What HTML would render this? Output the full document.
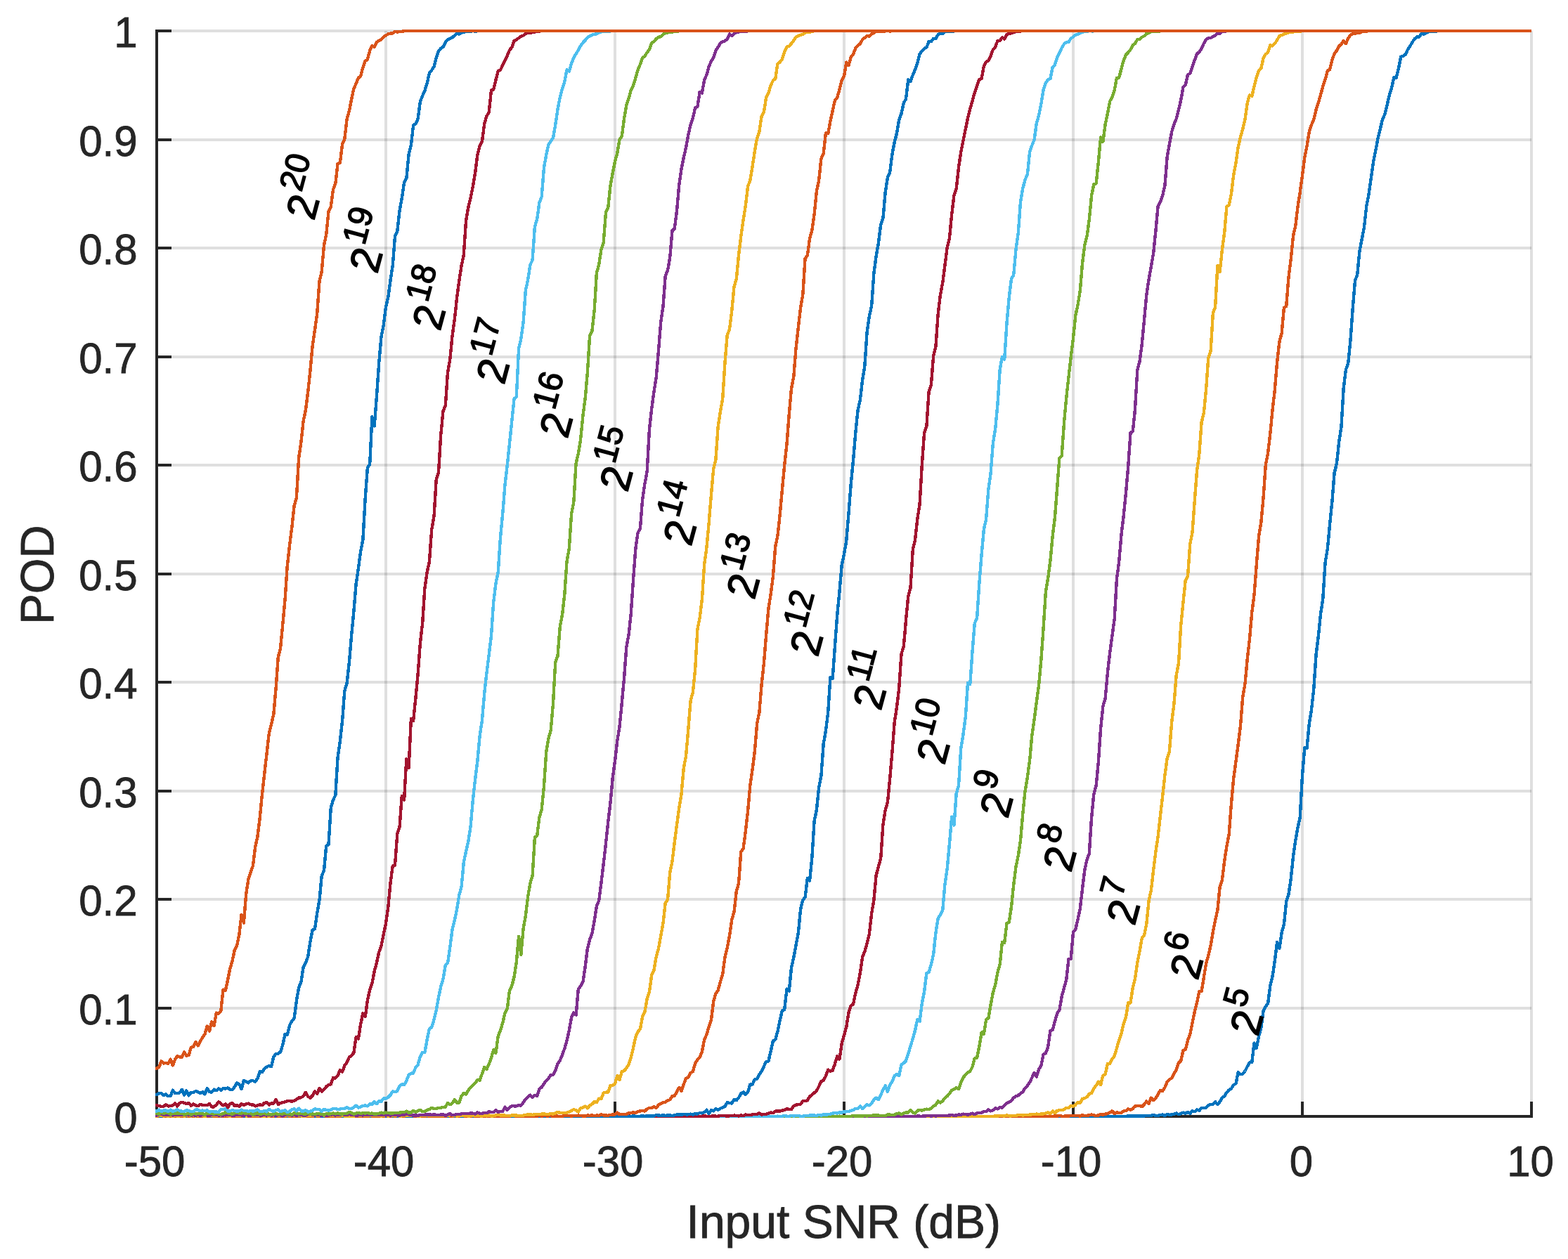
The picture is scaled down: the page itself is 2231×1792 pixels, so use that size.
<!DOCTYPE html>
<html lang="en"><head><meta charset="utf-8"><title>POD vs Input SNR</title>
<style>html,body{margin:0;padding:0;background:#fff}svg{display:block}text{font-family:"Liberation Sans",sans-serif}.t{font-size:60px;fill:#262626;stroke:#262626;stroke-width:.8}.l{font-size:66px;fill:#262626;stroke:#262626;stroke-width:.8}.c{fill:none;stroke-width:4.40;stroke-linejoin:round;stroke-linecap:butt;shape-rendering:crispEdges}.g{stroke:#262626;stroke-opacity:.15;stroke-width:4;fill:none;shape-rendering:crispEdges}.a{stroke:#262626;stroke-width:4;fill:none;shape-rendering:crispEdges}.d{font-size:60px;fill:#000;stroke:#000;stroke-width:1.5}.s{font-size:48px}</style></head><body>
<svg width="2231" height="1792" viewBox="0 0 2231 1792">
<rect width="2231" height="1792" fill="#fff"/>
<path class="g" d="M549,1568 V44 M875,1568 V44 M1201,1568 V44 M1527,1568 V44 M1853,1568 V44 M2179,1568 V44"/>
<path class="g" d="M244,44 H2179 M244,199 H2179 M244,353 H2179 M244,508 H2179 M244,662 H2179 M244,817 H2179 M244,971 H2179 M244,1126 H2179 M244,1280 H2179 M244,1435 H2179"/>
<path class="a" d="M223,42 V1591 M221,1589 H2181 M549,1589 V1568 M875,1589 V1568 M1201,1589 V1568 M1527,1589 V1568 M1853,1589 V1568 M2179,1589 V1568 M223,44 H244 M223,199 H244 M223,353 H244 M223,508 H244 M223,662 H244 M223,817 H244 M223,971 H244 M223,1126 H244 M223,1280 H244 M223,1435 H244"/>
<polyline class="c" stroke="#0072BD" points="221.0,1589.0 223.0,1589.0 258.9,1589.0 262.1,1588.8 265.4,1589.0 356.7,1589.0 359.9,1588.8 363.2,1589.0 451.2,1589.0 454.5,1588.8 457.7,1589.0 614.2,1589.0 617.5,1588.8 620.7,1589.0 1390.1,1589.0 1393.3,1588.8 1396.6,1589.0 1435.7,1589.0 1439.0,1588.8 1442.2,1589.0 1484.6,1589.0 1487.9,1588.8 1491.1,1589.0 1543.3,1589.0 1546.6,1588.8 1549.8,1589.0 1553.1,1589.0 1556.3,1588.8 1559.6,1589.0 1572.6,1589.0 1575.9,1588.8 1579.2,1589.0 1582.4,1588.8 1585.7,1589.0 1588.9,1589.0 1592.2,1588.8 1595.5,1589.0 1598.7,1589.0 1602.0,1588.8 1605.2,1588.5 1608.5,1588.7 1611.8,1588.3 1618.3,1588.3 1621.5,1588.7 1624.8,1588.5 1628.1,1588.5 1631.3,1587.8 1634.6,1588.0 1637.8,1587.8 1641.1,1587.1 1644.4,1588.0 1647.6,1587.8 1650.9,1587.1 1654.1,1586.6 1657.4,1588.1 1660.7,1585.9 1663.9,1586.8 1667.2,1586.6 1670.4,1585.6 1673.7,1584.5 1677.0,1586.3 1680.2,1585.1 1683.5,1583.5 1686.7,1584.7 1690.0,1582.8 1693.3,1584.7 1696.5,1581.3 1699.8,1582.3 1703.0,1579.4 1706.3,1580.9 1709.6,1577.0 1712.8,1577.0 1716.1,1576.8 1719.3,1573.5 1722.6,1571.8 1725.9,1572.0 1729.1,1568.1 1732.4,1572.2 1735.6,1568.4 1738.9,1562.2 1742.2,1560.5 1745.4,1554.8 1748.7,1551.4 1751.9,1549.5 1755.2,1544.2 1758.5,1542.5 1761.7,1526.2 1765.0,1529.1 1768.2,1528.6 1771.5,1524.5 1774.8,1517.9 1778.0,1512.3 1781.3,1511.9 1784.5,1484.6 1787.8,1491.8 1791.1,1474.8 1794.3,1463.0 1797.6,1439.1 1800.8,1432.4 1804.1,1428.5 1807.4,1402.4 1810.6,1389.2 1813.9,1367.2 1817.1,1340.8 1820.4,1349.9 1823.7,1327.2 1826.9,1315.9 1830.2,1282.9 1833.4,1273.6 1836.7,1251.3 1840.0,1219.2 1843.2,1196.9 1846.5,1178.0 1849.7,1163.8 1853.0,1103.7 1856.3,1064.2 1859.5,1064.9 1862.8,1030.1 1866.0,1010.1 1869.3,980.4 1872.6,931.5 1875.8,905.9 1879.1,873.8 1882.3,851.9 1885.6,800.5 1888.9,780.6 1892.1,746.1 1895.4,713.8 1898.6,673.2 1901.9,659.8 1905.2,628.7 1908.4,608.1 1911.7,552.6 1914.9,526.2 1918.2,517.3 1921.5,484.3 1924.7,439.5 1928.0,399.7 1931.2,390.9 1934.5,357.3 1937.8,340.1 1941.0,323.3 1944.3,293.4 1947.5,276.6 1950.8,253.3 1954.1,230.3 1957.3,214.3 1960.6,196.6 1963.8,183.4 1967.1,170.0 1970.4,162.5 1973.6,149.4 1976.9,135.0 1980.1,124.7 1983.4,110.1 1986.7,110.6 1989.9,97.7 1993.2,80.7 1996.4,79.9 1999.7,77.6 2003.0,70.4 2006.2,65.8 2009.5,60.0 2012.7,55.3 2016.0,52.4 2019.3,52.6 2022.5,48.1 2025.8,48.5 2029.0,46.9 2032.3,45.2 2035.6,44.9 2038.8,44.7 2042.1,44.5 2045.3,44.3 2048.6,44.0 2055.1,44.0 2058.4,44.2 2061.6,44.2 2064.9,44.0 2179.0,44.0"/>
<polyline class="c" stroke="#D95319" points="221.0,1589.0 223.0,1589.0 268.6,1589.0 271.9,1588.8 275.2,1589.0 317.5,1589.0 320.8,1588.8 324.1,1589.0 669.6,1589.0 672.9,1588.8 676.1,1589.0 708.7,1589.0 712.0,1588.8 715.3,1589.0 770.7,1589.0 773.9,1588.8 777.2,1589.0 904.3,1589.0 907.6,1588.8 910.9,1589.0 1021.7,1589.0 1025.0,1588.8 1028.2,1589.0 1191.2,1589.0 1194.5,1588.8 1197.7,1589.0 1331.4,1589.0 1334.7,1588.8 1337.9,1589.0 1416.2,1589.0 1419.4,1588.8 1422.7,1588.8 1425.9,1589.0 1429.2,1588.8 1432.5,1589.0 1435.7,1589.0 1439.0,1588.8 1442.2,1589.0 1465.1,1589.0 1468.3,1588.8 1471.6,1588.8 1474.8,1589.0 1484.6,1589.0 1487.9,1588.7 1491.1,1588.8 1494.4,1588.8 1497.7,1589.0 1500.9,1588.5 1504.2,1588.7 1507.4,1587.8 1510.7,1588.8 1514.0,1588.7 1517.2,1588.5 1520.5,1588.5 1523.7,1588.1 1527.0,1588.1 1530.3,1587.8 1533.5,1587.8 1536.8,1588.7 1540.0,1587.1 1543.3,1588.1 1546.6,1587.8 1549.8,1587.3 1553.1,1586.6 1556.3,1587.3 1559.6,1588.0 1562.9,1587.5 1566.1,1585.9 1569.4,1586.8 1572.6,1585.7 1575.9,1585.2 1579.2,1583.7 1582.4,1581.4 1585.7,1584.9 1588.9,1583.5 1592.2,1583.8 1595.5,1583.8 1598.7,1581.4 1602.0,1580.9 1605.2,1578.5 1608.5,1579.7 1611.8,1578.2 1615.0,1574.6 1618.3,1573.9 1621.5,1574.1 1624.8,1575.1 1628.1,1572.0 1631.3,1567.4 1634.6,1570.8 1637.8,1562.6 1641.1,1566.2 1644.4,1563.1 1647.6,1557.9 1650.9,1551.9 1654.1,1553.1 1657.4,1547.8 1660.7,1539.9 1663.9,1536.5 1667.2,1534.4 1670.4,1528.1 1673.7,1522.9 1677.0,1513.0 1680.2,1510.0 1683.5,1495.1 1686.7,1493.9 1690.0,1480.7 1693.3,1472.1 1696.5,1455.8 1699.8,1440.0 1703.0,1427.3 1706.3,1411.0 1709.6,1411.3 1712.8,1391.4 1716.1,1371.3 1719.3,1359.7 1722.6,1345.9 1725.9,1326.3 1729.1,1310.2 1732.4,1295.1 1735.6,1262.7 1738.9,1252.7 1742.2,1225.4 1745.4,1204.6 1748.7,1187.6 1751.9,1144.2 1755.2,1107.8 1758.5,1083.8 1761.7,1059.4 1765.0,1033.0 1768.2,992.3 1771.5,973.1 1774.8,937.5 1778.0,909.4 1781.3,871.3 1784.5,846.7 1787.8,803.6 1791.1,762.9 1794.3,744.1 1797.6,708.0 1800.8,661.8 1804.1,644.8 1807.4,616.3 1810.6,582.9 1813.9,554.4 1817.1,515.6 1820.4,486.6 1823.7,473.9 1826.9,437.8 1830.2,436.1 1833.4,395.6 1836.7,368.8 1840.0,335.8 1843.2,322.1 1846.5,294.3 1849.7,273.9 1853.0,249.7 1856.3,223.9 1859.5,208.1 1862.8,187.3 1866.0,177.6 1869.3,170.3 1872.6,156.1 1875.8,146.3 1879.1,134.6 1882.3,123.1 1885.6,113.2 1888.9,100.3 1892.1,98.9 1895.4,85.7 1898.6,76.3 1901.9,72.0 1905.2,65.6 1908.4,62.9 1911.7,58.1 1914.9,62.2 1918.2,54.5 1921.5,50.2 1924.7,47.6 1928.0,47.9 1931.2,46.7 1934.5,46.6 1937.8,45.4 1941.0,44.5 1944.3,44.5 1947.5,44.0 1950.8,44.0 1954.1,44.2 1957.3,44.0 1967.1,44.0 1970.4,44.2 1973.6,44.0 2179.0,44.0"/>
<polyline class="c" stroke="#EDB120" points="221.0,1589.0 223.0,1589.0 425.1,1589.0 428.4,1588.8 431.6,1589.0 457.7,1589.0 461.0,1588.8 464.2,1589.0 653.3,1589.0 656.6,1588.8 659.8,1588.8 663.1,1589.0 666.4,1589.0 669.6,1588.8 672.9,1589.0 747.9,1589.0 751.1,1588.8 754.4,1589.0 770.7,1589.0 773.9,1588.8 777.2,1589.0 832.6,1589.0 835.9,1588.8 839.1,1589.0 917.4,1589.0 920.6,1588.8 923.9,1589.0 989.1,1589.0 992.4,1588.8 995.6,1589.0 1142.3,1589.0 1145.6,1588.8 1148.8,1589.0 1207.5,1589.0 1210.8,1588.8 1214.0,1589.0 1337.9,1589.0 1341.2,1588.8 1344.4,1589.0 1360.7,1589.0 1364.0,1588.8 1367.3,1589.0 1370.5,1588.8 1373.8,1589.0 1380.3,1589.0 1383.6,1588.8 1386.8,1589.0 1390.1,1588.8 1393.3,1588.7 1396.6,1589.0 1399.9,1588.8 1403.1,1589.0 1406.4,1588.8 1409.6,1588.7 1412.9,1589.0 1416.2,1588.3 1419.4,1588.5 1422.7,1588.1 1425.9,1588.1 1429.2,1588.5 1432.5,1587.3 1435.7,1588.3 1439.0,1588.3 1442.2,1588.1 1445.5,1588.0 1448.8,1587.1 1452.0,1587.1 1455.3,1587.5 1458.5,1586.9 1461.8,1586.9 1465.1,1586.6 1468.3,1586.3 1471.6,1585.9 1474.8,1585.6 1478.1,1585.9 1481.4,1585.6 1484.6,1585.4 1487.9,1584.4 1491.1,1583.3 1494.4,1585.1 1497.7,1581.4 1500.9,1584.2 1504.2,1580.9 1507.4,1580.2 1510.7,1580.1 1514.0,1579.2 1517.2,1576.8 1520.5,1576.8 1523.7,1573.9 1527.0,1574.6 1530.3,1572.7 1533.5,1568.9 1536.8,1570.1 1540.0,1563.9 1543.3,1563.1 1546.6,1561.5 1549.8,1556.9 1553.1,1556.0 1556.3,1549.2 1559.6,1545.1 1562.9,1539.7 1566.1,1544.2 1569.4,1530.6 1572.6,1529.4 1575.9,1514.0 1579.2,1513.8 1582.4,1507.3 1585.7,1503.0 1588.9,1492.2 1592.2,1480.5 1595.5,1471.1 1598.7,1456.8 1602.0,1448.1 1605.2,1427.1 1608.5,1427.5 1611.8,1405.5 1615.0,1393.6 1618.3,1369.8 1621.5,1354.0 1624.8,1335.3 1628.1,1331.2 1631.3,1314.8 1634.6,1281.9 1637.8,1267.6 1641.1,1239.0 1644.4,1212.5 1647.6,1190.7 1650.9,1161.7 1654.1,1133.7 1657.4,1103.5 1660.7,1079.2 1663.9,1069.7 1667.2,1027.5 1670.4,1002.4 1673.7,961.0 1677.0,944.2 1680.2,889.8 1683.5,856.8 1686.7,826.5 1690.0,820.3 1693.3,774.1 1696.5,757.8 1699.8,712.8 1703.0,670.4 1706.3,646.6 1709.6,601.2 1712.8,588.0 1716.1,554.5 1719.3,509.2 1722.6,500.1 1725.9,445.2 1729.1,437.3 1732.4,378.2 1735.6,386.6 1738.9,355.6 1742.2,330.9 1745.4,294.1 1748.7,291.9 1751.9,275.8 1755.2,249.0 1758.5,231.6 1761.7,209.3 1765.0,195.1 1768.2,183.9 1771.5,170.0 1774.8,146.1 1778.0,135.3 1781.3,136.9 1784.5,123.0 1787.8,110.1 1791.1,100.6 1794.3,97.6 1797.6,82.8 1800.8,77.0 1804.1,74.7 1807.4,64.3 1810.6,65.3 1813.9,61.9 1817.1,57.2 1820.4,50.9 1823.7,50.2 1826.9,48.5 1830.2,47.4 1833.4,46.4 1836.7,45.4 1840.0,45.5 1843.2,44.9 1846.5,44.3 1849.7,44.5 1853.0,44.2 1856.3,44.0 1859.5,44.2 1862.8,44.2 1866.0,44.0 2179.0,44.0"/>
<polyline class="c" stroke="#7E2F8E" points="221.0,1589.0 223.0,1589.0 226.3,1588.8 229.5,1589.0 324.1,1589.0 327.3,1588.8 330.6,1589.0 359.9,1589.0 363.2,1588.8 366.4,1588.8 369.7,1589.0 379.5,1589.0 382.7,1588.8 386.0,1589.0 389.3,1589.0 392.5,1588.8 395.8,1588.8 399.0,1589.0 418.6,1589.0 421.9,1588.8 425.1,1589.0 434.9,1589.0 438.2,1588.8 441.4,1589.0 467.5,1589.0 470.8,1588.8 474.0,1589.0 529.4,1589.0 532.7,1588.8 536.0,1589.0 620.7,1589.0 624.0,1588.8 627.2,1589.0 682.7,1589.0 685.9,1588.8 689.2,1589.0 702.2,1589.0 705.5,1588.8 708.7,1589.0 754.4,1589.0 757.6,1588.8 760.9,1589.0 783.7,1589.0 787.0,1588.8 790.2,1589.0 793.5,1589.0 796.8,1588.8 800.0,1589.0 875.0,1589.0 878.3,1588.8 881.5,1588.8 884.8,1589.0 985.8,1589.0 989.1,1588.8 992.4,1589.0 995.6,1588.8 998.9,1589.0 1086.9,1589.0 1090.2,1588.8 1093.4,1588.8 1096.7,1589.0 1113.0,1589.0 1116.2,1588.8 1119.5,1589.0 1165.1,1589.0 1168.4,1588.8 1171.7,1589.0 1253.2,1589.0 1256.4,1588.7 1259.7,1588.8 1262.9,1589.0 1272.7,1589.0 1276.0,1588.8 1279.2,1588.8 1282.5,1588.7 1285.8,1589.0 1289.0,1589.0 1292.3,1588.7 1295.5,1588.8 1298.8,1588.8 1302.1,1589.0 1305.3,1588.5 1308.6,1588.7 1311.8,1588.7 1315.1,1588.3 1318.4,1588.3 1321.6,1588.0 1324.9,1588.7 1328.1,1587.8 1331.4,1588.7 1334.7,1588.0 1337.9,1587.8 1341.2,1588.0 1344.4,1588.1 1347.7,1587.8 1351.0,1587.6 1354.2,1586.9 1357.5,1587.8 1360.7,1587.5 1364.0,1586.6 1367.3,1586.8 1370.5,1585.6 1373.8,1586.1 1377.0,1586.6 1380.3,1585.9 1383.6,1584.7 1386.8,1586.3 1390.1,1584.5 1393.3,1583.8 1396.6,1583.8 1399.9,1582.0 1403.1,1582.0 1406.4,1579.4 1409.6,1581.4 1412.9,1580.2 1416.2,1577.3 1419.4,1578.4 1422.7,1575.8 1425.9,1576.6 1429.2,1573.5 1432.5,1569.9 1435.7,1569.1 1439.0,1566.5 1442.2,1562.6 1445.5,1560.2 1448.8,1559.1 1452.0,1556.4 1455.3,1554.3 1458.5,1548.7 1461.8,1545.4 1465.1,1540.6 1468.3,1533.9 1471.6,1526.9 1474.8,1532.5 1478.1,1521.9 1481.4,1516.6 1484.6,1500.6 1487.9,1499.2 1491.1,1490.1 1494.4,1467.5 1497.7,1465.6 1500.9,1453.9 1504.2,1442.4 1507.4,1437.6 1510.7,1418.5 1514.0,1406.2 1517.2,1394.8 1520.5,1365.0 1523.7,1364.6 1527.0,1327.0 1530.3,1322.7 1533.5,1308.8 1536.8,1293.6 1540.0,1265.4 1543.3,1238.5 1546.6,1223.3 1549.8,1214.9 1553.1,1163.6 1556.3,1130.5 1559.6,1118.5 1562.9,1084.0 1566.1,1036.9 1569.4,1005.3 1572.6,994.3 1575.9,957.6 1579.2,928.6 1582.4,905.1 1585.7,880.9 1588.9,824.4 1592.2,799.5 1595.5,760.4 1598.7,734.4 1602.0,701.5 1605.2,664.1 1608.5,616.2 1611.8,613.8 1615.0,582.7 1618.3,526.7 1621.5,514.7 1624.8,489.8 1628.1,454.5 1631.3,420.1 1634.6,397.5 1637.8,380.1 1641.1,360.6 1644.4,328.6 1647.6,293.8 1650.9,287.4 1654.1,278.5 1657.4,264.2 1660.7,223.2 1663.9,205.5 1667.2,187.5 1670.4,177.2 1673.7,169.0 1677.0,156.6 1680.2,142.5 1683.5,124.2 1686.7,121.1 1690.0,106.3 1693.3,104.6 1696.5,94.8 1699.8,85.5 1703.0,77.0 1706.3,73.9 1709.6,69.2 1712.8,61.9 1716.1,56.5 1719.3,54.1 1722.6,54.0 1725.9,52.1 1729.1,50.4 1732.4,47.3 1735.6,47.6 1738.9,45.2 1742.2,44.5 1745.4,44.3 1748.7,44.2 1751.9,44.0 1755.2,44.3 1758.5,44.0 1761.7,44.0 1765.0,44.3 1768.2,44.0 2179.0,44.0"/>
<polyline class="c" stroke="#77AC30" points="221.0,1589.0 223.0,1589.0 229.5,1589.0 232.8,1588.8 236.0,1589.0 255.6,1589.0 258.9,1588.7 262.1,1589.0 307.8,1589.0 311.0,1588.8 314.3,1589.0 340.4,1589.0 343.6,1588.8 346.9,1589.0 363.2,1589.0 366.4,1588.8 369.7,1589.0 382.7,1589.0 386.0,1588.7 389.3,1589.0 421.9,1589.0 425.1,1588.8 428.4,1588.8 431.6,1589.0 444.7,1589.0 447.9,1588.8 451.2,1588.7 454.5,1588.8 457.7,1589.0 467.5,1589.0 470.8,1588.8 474.0,1589.0 503.4,1589.0 506.6,1588.7 509.9,1589.0 513.1,1588.8 516.4,1589.0 536.0,1589.0 539.2,1588.8 542.5,1589.0 545.7,1588.8 549.0,1589.0 555.5,1589.0 558.8,1588.7 562.0,1589.0 565.3,1589.0 568.6,1588.8 571.8,1588.8 575.1,1589.0 588.1,1589.0 591.4,1588.8 594.6,1589.0 620.7,1589.0 624.0,1588.8 627.2,1589.0 633.8,1589.0 637.0,1588.8 640.3,1589.0 689.2,1589.0 692.4,1588.8 695.7,1589.0 699.0,1588.8 702.2,1589.0 708.7,1589.0 712.0,1588.8 715.3,1589.0 721.8,1589.0 725.0,1588.8 728.3,1589.0 744.6,1589.0 747.9,1588.8 751.1,1589.0 764.2,1589.0 767.4,1588.8 770.7,1588.8 773.9,1589.0 835.9,1589.0 839.1,1588.8 842.4,1589.0 871.7,1589.0 875.0,1588.7 878.3,1589.0 907.6,1589.0 910.9,1588.8 914.1,1589.0 936.9,1589.0 940.2,1588.8 943.5,1588.8 946.7,1589.0 985.8,1589.0 989.1,1588.8 992.4,1589.0 995.6,1588.8 998.9,1588.8 1002.1,1589.0 1047.8,1589.0 1051.0,1588.8 1054.3,1589.0 1060.8,1589.0 1064.1,1588.8 1067.3,1589.0 1070.6,1588.7 1073.9,1589.0 1077.1,1588.8 1080.4,1588.8 1083.6,1589.0 1119.5,1589.0 1122.8,1588.8 1126.0,1589.0 1132.5,1589.0 1135.8,1588.8 1142.3,1588.8 1145.6,1589.0 1148.8,1588.8 1152.1,1588.8 1155.4,1588.7 1158.6,1589.0 1161.9,1588.8 1165.1,1589.0 1178.2,1589.0 1181.4,1588.8 1184.7,1588.8 1188.0,1588.7 1191.2,1589.0 1194.5,1588.7 1197.7,1588.8 1201.0,1588.7 1204.3,1589.0 1207.5,1589.0 1210.8,1588.7 1214.0,1588.1 1217.3,1588.7 1220.6,1588.5 1223.8,1588.3 1227.1,1588.7 1230.3,1588.0 1233.6,1588.5 1236.9,1588.1 1240.1,1588.1 1243.4,1587.3 1246.6,1587.3 1249.9,1587.6 1253.2,1588.3 1256.4,1588.0 1259.7,1588.0 1262.9,1586.6 1266.2,1586.6 1269.5,1586.9 1272.7,1586.9 1276.0,1585.1 1279.2,1584.4 1282.5,1586.3 1285.8,1584.7 1289.0,1583.5 1292.3,1583.7 1295.5,1579.9 1298.8,1583.5 1302.1,1584.5 1305.3,1580.8 1308.6,1580.1 1311.8,1580.6 1315.1,1579.6 1318.4,1578.7 1321.6,1578.9 1324.9,1578.0 1328.1,1574.4 1331.4,1572.7 1334.7,1567.2 1337.9,1569.6 1341.2,1567.2 1344.4,1562.7 1347.7,1560.3 1351.0,1556.7 1354.2,1551.7 1357.5,1550.2 1360.7,1548.1 1364.0,1550.2 1367.3,1540.8 1370.5,1533.7 1373.8,1529.8 1377.0,1526.2 1380.3,1524.8 1383.6,1518.4 1386.8,1506.4 1390.1,1505.6 1393.3,1489.6 1396.6,1469.5 1399.9,1471.9 1403.1,1451.2 1406.4,1449.1 1409.6,1430.2 1412.9,1412.7 1416.2,1401.5 1419.4,1384.5 1422.7,1372.5 1425.9,1341.3 1429.2,1342.0 1432.5,1314.0 1435.7,1313.0 1439.0,1290.8 1442.2,1259.4 1445.5,1233.7 1448.8,1217.9 1452.0,1196.4 1455.3,1158.3 1458.5,1126.4 1461.8,1106.4 1465.1,1082.4 1468.3,1046.7 1471.6,1024.0 1474.8,999.2 1478.1,975.3 1481.4,938.9 1484.6,894.3 1487.9,841.9 1491.1,823.5 1494.4,798.3 1497.7,762.8 1500.9,737.0 1504.2,694.1 1507.4,651.9 1510.7,649.1 1514.0,601.9 1517.2,566.4 1520.5,536.5 1523.7,508.4 1527.0,481.4 1530.3,449.0 1533.5,434.2 1536.8,414.1 1540.0,375.0 1543.3,349.2 1546.6,336.0 1549.8,312.7 1553.1,278.3 1556.3,262.5 1559.6,261.2 1562.9,230.1 1566.1,195.4 1569.4,201.6 1572.6,177.2 1575.9,161.8 1579.2,144.1 1582.4,138.4 1585.7,128.6 1588.9,111.1 1592.2,110.6 1595.5,97.6 1598.7,86.1 1602.0,78.0 1605.2,74.9 1608.5,70.6 1611.8,64.1 1615.0,62.2 1618.3,56.0 1621.5,55.7 1624.8,52.9 1628.1,51.2 1631.3,47.8 1634.6,47.1 1637.8,45.0 1641.1,45.0 1644.4,44.3 1650.9,44.3 1654.1,44.2 1657.4,44.0 1667.2,44.0 1670.4,44.2 1673.7,44.2 1677.0,44.0 2179.0,44.0"/>
<polyline class="c" stroke="#4DBEEE" points="221.0,1589.0 223.0,1589.0 229.5,1589.0 232.8,1588.8 236.0,1589.0 249.1,1589.0 252.3,1588.8 255.6,1588.8 258.9,1589.0 262.1,1589.0 265.4,1588.8 268.6,1588.8 271.9,1589.0 275.2,1588.8 278.4,1589.0 288.2,1589.0 291.5,1588.7 294.7,1589.0 298.0,1588.8 301.2,1588.8 304.5,1588.7 307.8,1589.0 317.5,1589.0 320.8,1588.8 324.1,1588.8 327.3,1589.0 353.4,1589.0 356.7,1588.8 359.9,1588.8 363.2,1589.0 366.4,1588.8 369.7,1588.8 373.0,1589.0 382.7,1589.0 386.0,1588.8 389.3,1589.0 399.0,1589.0 402.3,1588.8 405.6,1589.0 408.8,1588.8 412.1,1589.0 415.3,1588.8 418.6,1589.0 421.9,1588.8 425.1,1589.0 428.4,1588.8 431.6,1588.8 434.9,1589.0 438.2,1588.7 441.4,1588.8 444.7,1589.0 467.5,1589.0 470.8,1588.8 474.0,1589.0 477.3,1589.0 480.5,1588.8 483.8,1588.8 487.1,1589.0 526.2,1589.0 529.4,1588.8 532.7,1589.0 552.3,1589.0 555.5,1588.8 558.8,1589.0 562.0,1589.0 565.3,1588.8 568.6,1589.0 578.3,1589.0 581.6,1588.8 584.9,1589.0 588.1,1589.0 591.4,1588.8 594.6,1589.0 597.9,1589.0 601.2,1588.8 604.4,1588.8 607.7,1588.7 610.9,1589.0 617.5,1589.0 620.7,1588.8 624.0,1589.0 627.2,1588.8 630.5,1589.0 633.8,1588.8 637.0,1589.0 640.3,1589.0 643.5,1588.8 646.8,1589.0 650.1,1588.8 653.3,1588.8 656.6,1589.0 659.8,1588.8 663.1,1589.0 666.4,1588.8 669.6,1588.7 672.9,1588.8 676.1,1588.8 679.4,1589.0 685.9,1589.0 689.2,1588.8 692.4,1588.8 695.7,1589.0 699.0,1588.8 702.2,1588.8 705.5,1589.0 718.5,1589.0 721.8,1588.7 725.0,1589.0 738.1,1589.0 741.3,1588.8 744.6,1589.0 751.1,1589.0 754.4,1588.8 757.6,1588.7 760.9,1589.0 783.7,1589.0 787.0,1588.8 790.2,1589.0 793.5,1588.8 796.8,1589.0 800.0,1588.8 803.3,1589.0 816.3,1589.0 819.6,1588.8 822.8,1588.8 826.1,1589.0 829.4,1588.8 832.6,1589.0 842.4,1589.0 845.7,1588.8 848.9,1589.0 852.2,1589.0 855.4,1588.8 858.7,1588.8 862.0,1589.0 871.7,1589.0 875.0,1588.8 878.3,1589.0 881.5,1588.8 884.8,1589.0 904.3,1589.0 907.6,1588.8 910.9,1589.0 914.1,1589.0 917.4,1588.8 920.6,1589.0 923.9,1588.7 927.2,1589.0 930.4,1588.8 933.7,1588.8 936.9,1589.0 940.2,1588.8 943.5,1589.0 959.8,1589.0 963.0,1588.8 966.3,1589.0 972.8,1589.0 976.1,1588.8 979.3,1588.8 982.6,1589.0 1008.7,1589.0 1011.9,1588.8 1015.2,1589.0 1028.2,1589.0 1031.5,1588.7 1034.7,1588.8 1038.0,1589.0 1041.3,1589.0 1044.5,1588.8 1047.8,1588.8 1051.0,1589.0 1054.3,1588.8 1057.6,1589.0 1060.8,1588.8 1064.1,1588.8 1067.3,1589.0 1070.6,1588.8 1073.9,1589.0 1083.6,1589.0 1086.9,1588.8 1093.4,1588.8 1096.7,1588.7 1099.9,1588.8 1103.2,1588.8 1106.5,1588.7 1109.7,1589.0 1113.0,1588.7 1116.2,1588.0 1119.5,1588.7 1122.8,1588.8 1126.0,1588.1 1129.3,1588.5 1132.5,1588.1 1135.8,1587.8 1139.1,1589.0 1142.3,1588.8 1145.6,1588.0 1148.8,1588.3 1152.1,1587.6 1155.4,1587.3 1158.6,1587.5 1161.9,1588.0 1165.1,1586.9 1168.4,1587.6 1171.7,1586.3 1174.9,1586.6 1178.2,1586.3 1181.4,1585.7 1184.7,1584.5 1188.0,1584.2 1191.2,1584.4 1194.5,1583.5 1197.7,1583.5 1201.0,1582.3 1204.3,1582.3 1207.5,1581.8 1210.8,1580.9 1214.0,1579.9 1217.3,1577.8 1220.6,1578.2 1223.8,1574.6 1227.1,1578.0 1230.3,1574.9 1233.6,1572.3 1236.9,1573.4 1240.1,1570.8 1243.4,1565.3 1246.6,1562.6 1249.9,1565.1 1253.2,1558.6 1256.4,1551.2 1259.7,1545.4 1262.9,1554.0 1266.2,1544.0 1269.5,1539.4 1272.7,1531.3 1276.0,1529.1 1279.2,1531.0 1282.5,1515.4 1285.8,1513.3 1289.0,1509.9 1292.3,1499.7 1295.5,1489.1 1298.8,1478.3 1302.1,1466.4 1305.3,1451.0 1308.6,1453.6 1311.8,1428.5 1315.1,1411.2 1318.4,1385.2 1321.6,1383.5 1324.9,1373.0 1328.1,1358.8 1331.4,1327.7 1334.7,1307.3 1337.9,1302.0 1341.2,1296.1 1344.4,1258.9 1347.7,1236.7 1351.0,1200.5 1354.2,1162.6 1357.5,1174.6 1360.7,1129.6 1364.0,1118.1 1367.3,1064.9 1370.5,1045.2 1373.8,1020.3 1377.0,972.2 1380.3,973.7 1383.6,926.4 1386.8,887.1 1390.1,880.0 1393.3,831.4 1396.6,789.2 1399.9,753.3 1403.1,739.1 1406.4,696.3 1409.6,673.7 1412.9,630.8 1416.2,610.3 1419.4,576.2 1422.7,525.9 1425.9,508.0 1429.2,511.6 1432.5,459.9 1435.7,423.9 1439.0,396.8 1442.2,391.6 1445.5,355.1 1448.8,331.4 1452.0,287.6 1455.3,268.2 1458.5,255.8 1461.8,248.5 1465.1,216.7 1468.3,207.1 1471.6,198.7 1474.8,175.8 1478.1,164.3 1481.4,147.7 1484.6,127.9 1487.9,118.3 1491.1,113.4 1494.4,112.0 1497.7,95.7 1500.9,92.2 1504.2,81.6 1507.4,75.1 1510.7,68.2 1514.0,62.7 1517.2,60.0 1520.5,59.6 1523.7,54.6 1527.0,52.6 1530.3,49.8 1533.5,48.6 1536.8,47.1 1540.0,45.9 1543.3,44.9 1546.6,44.7 1549.8,44.2 1553.1,44.3 1556.3,44.3 1559.6,44.2 1562.9,44.0 1566.1,44.2 1569.4,44.0 1572.6,44.2 1575.9,44.0 2179.0,44.0"/>
<polyline class="c" stroke="#A2142F" points="221.0,1588.8 223.0,1588.8 226.3,1589.0 232.8,1589.0 236.0,1588.8 239.3,1589.0 242.6,1588.8 249.1,1588.8 252.3,1589.0 255.6,1588.8 258.9,1589.0 262.1,1589.0 265.4,1588.8 268.6,1589.0 271.9,1588.8 275.2,1588.7 278.4,1588.7 281.7,1589.0 284.9,1589.0 288.2,1588.8 291.5,1588.8 294.7,1588.7 298.0,1588.8 301.2,1589.0 320.8,1589.0 324.1,1588.5 327.3,1588.8 330.6,1588.8 333.8,1588.7 337.1,1588.7 340.4,1589.0 343.6,1589.0 346.9,1588.8 350.1,1589.0 353.4,1588.8 356.7,1589.0 359.9,1589.0 363.2,1588.8 369.7,1588.8 373.0,1589.0 376.2,1589.0 379.5,1588.5 382.7,1588.8 386.0,1589.0 389.3,1588.7 392.5,1589.0 402.3,1589.0 405.6,1588.7 408.8,1588.8 415.3,1588.8 418.6,1588.7 421.9,1588.8 425.1,1588.7 428.4,1589.0 431.6,1588.7 434.9,1589.0 438.2,1588.7 441.4,1589.0 461.0,1589.0 464.2,1588.8 474.0,1588.8 477.3,1589.0 487.1,1589.0 490.3,1588.7 493.6,1589.0 496.8,1589.0 500.1,1588.8 503.4,1589.0 513.1,1589.0 516.4,1588.8 519.7,1588.8 522.9,1589.0 536.0,1589.0 539.2,1588.7 542.5,1588.8 545.7,1588.8 549.0,1589.0 552.3,1588.8 555.5,1589.0 558.8,1588.8 562.0,1588.8 565.3,1589.0 568.6,1588.8 571.8,1589.0 578.3,1589.0 581.6,1588.8 584.9,1588.8 588.1,1589.0 591.4,1588.8 594.6,1588.7 597.9,1588.8 620.7,1588.8 624.0,1589.0 630.5,1589.0 633.8,1588.5 637.0,1588.8 640.3,1589.0 643.5,1589.0 646.8,1588.5 650.1,1588.7 653.3,1588.8 656.6,1589.0 659.8,1589.0 663.1,1588.7 666.4,1588.8 669.6,1588.7 672.9,1589.0 676.1,1588.7 679.4,1588.8 682.7,1589.0 685.9,1588.8 689.2,1589.0 692.4,1588.5 695.7,1589.0 699.0,1588.8 702.2,1588.8 705.5,1589.0 708.7,1588.7 712.0,1589.0 715.3,1588.8 718.5,1589.0 721.8,1588.8 725.0,1589.0 728.3,1588.8 731.6,1588.5 734.8,1588.8 738.1,1588.8 741.3,1589.0 747.9,1589.0 751.1,1588.8 754.4,1588.7 757.6,1588.8 764.2,1588.8 767.4,1588.7 770.7,1589.0 773.9,1588.8 780.5,1588.8 783.7,1588.7 787.0,1589.0 790.2,1589.0 793.5,1588.8 796.8,1589.0 800.0,1588.8 803.3,1589.0 806.5,1588.1 809.8,1589.0 813.1,1588.8 816.3,1589.0 819.6,1589.0 822.8,1588.5 826.1,1589.0 829.4,1588.8 832.6,1589.0 835.9,1588.8 839.1,1589.0 842.4,1588.8 845.7,1589.0 848.9,1589.0 852.2,1588.8 855.4,1588.8 858.7,1589.0 875.0,1589.0 878.3,1588.7 881.5,1589.0 888.0,1589.0 891.3,1588.7 894.6,1588.5 897.8,1588.8 901.1,1589.0 904.3,1588.8 907.6,1589.0 910.9,1589.0 914.1,1588.5 917.4,1588.8 920.6,1589.0 923.9,1589.0 927.2,1588.8 930.4,1588.8 933.7,1588.7 936.9,1589.0 940.2,1589.0 943.5,1588.8 946.7,1588.8 950.0,1589.0 953.2,1588.7 956.5,1588.8 959.8,1589.0 963.0,1588.7 966.3,1588.8 969.5,1588.8 972.8,1589.0 976.1,1589.0 979.3,1588.8 982.6,1588.7 985.8,1589.0 989.1,1588.5 992.4,1588.7 995.6,1589.0 998.9,1588.7 1002.1,1588.3 1005.4,1588.8 1008.7,1588.7 1011.9,1588.8 1015.2,1588.3 1018.4,1588.7 1021.7,1588.7 1025.0,1588.1 1028.2,1588.0 1031.5,1588.3 1038.0,1588.3 1041.3,1588.1 1044.5,1587.6 1047.8,1587.8 1051.0,1588.5 1054.3,1587.3 1057.6,1588.0 1060.8,1586.6 1064.1,1587.1 1067.3,1587.1 1070.6,1586.3 1073.9,1586.1 1077.1,1585.9 1080.4,1584.5 1083.6,1586.4 1086.9,1586.1 1090.2,1585.9 1093.4,1584.9 1096.7,1583.5 1099.9,1584.0 1103.2,1581.6 1106.5,1581.3 1109.7,1581.6 1113.0,1580.4 1116.2,1580.2 1119.5,1578.0 1122.8,1578.9 1126.0,1579.0 1129.3,1574.1 1132.5,1572.7 1135.8,1572.0 1139.1,1571.7 1142.3,1567.2 1145.6,1567.0 1148.8,1566.2 1152.1,1560.7 1155.4,1558.4 1158.6,1555.4 1161.9,1552.6 1165.1,1546.4 1168.4,1539.2 1171.7,1537.8 1174.9,1531.7 1178.2,1522.7 1181.4,1525.0 1184.7,1523.6 1188.0,1514.2 1191.2,1503.3 1194.5,1507.5 1197.7,1485.3 1201.0,1473.6 1204.3,1461.5 1207.5,1441.4 1210.8,1431.6 1214.0,1429.3 1217.3,1413.6 1220.6,1402.1 1223.8,1385.1 1227.1,1362.4 1230.3,1354.3 1233.6,1343.0 1236.9,1329.1 1240.1,1300.4 1243.4,1280.9 1246.6,1246.0 1249.9,1233.5 1253.2,1221.8 1256.4,1174.1 1259.7,1152.8 1262.9,1142.2 1266.2,1108.2 1269.5,1069.4 1272.7,1028.3 1276.0,1006.4 1279.2,979.9 1282.5,930.8 1285.8,920.2 1289.0,882.6 1292.3,848.4 1295.5,836.9 1298.8,782.3 1302.1,768.3 1305.3,738.7 1308.6,717.6 1311.8,662.0 1315.1,616.2 1318.4,606.4 1321.6,557.6 1324.9,547.8 1328.1,506.6 1331.4,493.4 1334.7,446.9 1337.9,420.1 1341.2,402.6 1344.4,378.1 1347.7,351.8 1351.0,338.6 1354.2,304.9 1357.5,277.8 1360.7,268.4 1364.0,238.2 1367.3,216.0 1370.5,200.0 1373.8,183.9 1377.0,168.3 1380.3,154.7 1383.6,143.6 1386.8,131.7 1390.1,122.3 1393.3,113.2 1396.6,111.6 1399.9,94.0 1403.1,88.1 1406.4,86.4 1409.6,79.4 1412.9,70.4 1416.2,67.0 1419.4,58.1 1422.7,58.1 1425.9,53.4 1429.2,55.5 1432.5,49.1 1435.7,47.6 1439.0,47.3 1442.2,46.2 1445.5,45.2 1448.8,45.2 1452.0,44.5 1455.3,44.0 1458.5,44.3 1461.8,44.2 1465.1,44.0 2179.0,44.0"/>
<polyline class="c" stroke="#0072BD" points="221.0,1588.5 223.0,1588.5 226.3,1588.5 229.5,1589.0 232.8,1588.8 236.0,1588.5 239.3,1589.0 242.6,1589.0 245.8,1588.5 249.1,1588.8 252.3,1588.8 255.6,1588.1 258.9,1589.0 262.1,1588.7 265.4,1588.8 268.6,1588.8 271.9,1588.5 278.4,1588.5 281.7,1588.7 284.9,1588.8 288.2,1589.0 291.5,1589.0 294.7,1588.8 298.0,1588.5 301.2,1588.8 304.5,1589.0 307.8,1588.7 311.0,1588.8 314.3,1589.0 317.5,1588.8 320.8,1588.8 324.1,1588.7 327.3,1589.0 330.6,1588.8 333.8,1588.7 337.1,1588.8 340.4,1588.8 343.6,1588.7 350.1,1588.7 353.4,1589.0 356.7,1588.7 359.9,1589.0 363.2,1588.8 369.7,1588.8 373.0,1588.3 376.2,1588.3 379.5,1588.8 382.7,1588.7 386.0,1588.7 389.3,1588.8 392.5,1589.0 395.8,1588.8 399.0,1588.8 402.3,1588.7 405.6,1589.0 408.8,1588.8 412.1,1588.7 415.3,1587.8 418.6,1589.0 421.9,1588.8 425.1,1588.3 428.4,1589.0 431.6,1588.7 434.9,1588.7 438.2,1588.3 441.4,1588.8 444.7,1588.1 447.9,1588.7 451.2,1589.0 454.5,1588.7 457.7,1588.3 461.0,1588.8 464.2,1588.7 467.5,1589.0 470.8,1589.0 474.0,1588.8 477.3,1588.5 480.5,1588.8 490.3,1588.8 493.6,1588.5 496.8,1588.5 500.1,1588.3 503.4,1588.7 506.6,1589.0 509.9,1589.0 513.1,1588.5 516.4,1588.8 519.7,1588.8 522.9,1588.5 526.2,1588.7 529.4,1588.7 532.7,1588.1 536.0,1588.7 539.2,1588.8 542.5,1588.7 545.7,1589.0 549.0,1588.5 552.3,1588.8 558.8,1588.8 562.0,1589.0 568.6,1589.0 571.8,1588.7 575.1,1588.8 578.3,1588.7 581.6,1588.3 584.9,1588.7 588.1,1588.5 591.4,1588.8 594.6,1588.5 597.9,1588.8 601.2,1589.0 604.4,1588.5 607.7,1588.5 610.9,1588.7 614.2,1588.8 617.5,1588.7 620.7,1589.0 624.0,1588.3 627.2,1589.0 630.5,1589.0 633.8,1588.7 637.0,1588.7 640.3,1588.5 643.5,1588.8 650.1,1588.8 653.3,1589.0 656.6,1588.5 659.8,1589.0 663.1,1588.3 666.4,1589.0 669.6,1588.5 672.9,1588.7 676.1,1589.0 679.4,1589.0 682.7,1588.8 685.9,1588.8 689.2,1588.7 692.4,1589.0 702.2,1589.0 705.5,1588.8 708.7,1588.7 712.0,1589.0 715.3,1588.3 718.5,1588.5 721.8,1588.8 725.0,1589.0 731.6,1589.0 734.8,1588.5 738.1,1588.7 741.3,1588.3 744.6,1588.7 747.9,1588.5 751.1,1588.3 754.4,1588.7 757.6,1589.0 760.9,1588.8 764.2,1588.8 767.4,1588.7 770.7,1588.7 773.9,1589.0 777.2,1588.5 780.5,1588.7 783.7,1588.8 787.0,1589.0 790.2,1588.5 793.5,1589.0 796.8,1588.8 800.0,1589.0 803.3,1588.8 806.5,1588.5 809.8,1588.8 813.1,1588.8 816.3,1588.7 819.6,1588.8 822.8,1588.8 826.1,1588.7 829.4,1588.7 832.6,1588.8 835.9,1589.0 839.1,1588.3 842.4,1588.3 845.7,1588.8 852.2,1588.8 855.4,1588.3 858.7,1588.8 862.0,1588.8 865.2,1588.7 868.5,1589.0 871.7,1589.0 875.0,1588.5 878.3,1588.8 881.5,1588.7 884.8,1588.7 888.0,1589.0 891.3,1588.7 894.6,1588.7 897.8,1588.8 901.1,1588.5 904.3,1588.7 907.6,1588.8 910.9,1588.8 914.1,1588.3 917.4,1588.8 920.6,1588.5 923.9,1588.3 927.2,1588.3 930.4,1588.5 933.7,1586.9 936.9,1587.6 940.2,1587.8 943.5,1587.5 946.7,1587.8 950.0,1587.5 953.2,1587.3 956.5,1588.3 959.8,1587.3 963.0,1586.6 969.5,1586.6 972.8,1586.1 976.1,1586.3 979.3,1586.3 982.6,1585.6 985.8,1586.6 989.1,1585.1 992.4,1585.6 995.6,1584.0 998.9,1584.4 1002.1,1583.2 1005.4,1579.7 1008.7,1584.9 1011.9,1580.1 1015.2,1581.4 1018.4,1577.8 1021.7,1580.1 1025.0,1577.7 1028.2,1576.5 1031.5,1574.8 1034.7,1569.3 1038.0,1570.1 1041.3,1570.5 1044.5,1565.1 1047.8,1566.2 1051.0,1562.4 1054.3,1556.4 1057.6,1554.5 1060.8,1557.8 1064.1,1554.7 1067.3,1543.5 1070.6,1543.5 1073.9,1536.3 1077.1,1535.6 1080.4,1529.6 1083.6,1524.8 1086.9,1517.8 1090.2,1510.9 1093.4,1510.5 1096.7,1496.1 1099.9,1481.9 1103.2,1479.6 1106.5,1468.0 1109.7,1452.4 1113.0,1438.1 1116.2,1436.9 1119.5,1407.7 1122.8,1410.6 1126.0,1377.2 1129.3,1362.9 1132.5,1345.4 1135.8,1328.2 1139.1,1294.1 1142.3,1281.2 1145.6,1277.1 1148.8,1250.3 1152.1,1253.6 1155.4,1220.1 1158.6,1168.8 1161.9,1152.5 1165.1,1121.2 1168.4,1104.0 1171.7,1058.4 1174.9,1040.5 1178.2,1013.9 1181.4,964.0 1184.7,965.7 1188.0,919.0 1191.2,875.9 1194.5,841.9 1197.7,804.1 1201.0,788.9 1204.3,769.5 1207.5,730.7 1210.8,688.3 1214.0,655.5 1217.3,616.0 1220.6,583.9 1223.8,569.6 1227.1,541.3 1230.3,521.7 1233.6,473.2 1236.9,450.0 1240.1,435.7 1243.4,389.1 1246.6,364.5 1249.9,346.1 1253.2,319.4 1256.4,310.9 1259.7,273.5 1262.9,252.7 1266.2,245.2 1269.5,218.9 1272.7,202.6 1276.0,189.6 1279.2,170.7 1282.5,161.6 1285.8,146.7 1289.0,140.8 1292.3,113.5 1295.5,115.8 1298.8,106.7 1302.1,98.9 1305.3,89.8 1308.6,76.6 1311.8,73.0 1315.1,69.1 1318.4,67.5 1321.6,59.1 1324.9,59.3 1328.1,54.8 1331.4,55.3 1334.7,49.1 1337.9,47.6 1341.2,47.9 1344.4,45.0 1347.7,45.0 1351.0,44.5 1354.2,44.3 1357.5,44.3 1360.7,44.2 1364.0,44.0 1370.5,44.0 1373.8,44.2 1377.0,44.0 2179.0,44.0"/>
<polyline class="c" stroke="#D95319" points="221.0,1588.8 223.0,1588.8 226.3,1588.3 229.5,1587.6 232.8,1588.8 236.0,1588.7 239.3,1588.5 242.6,1588.7 245.8,1588.5 249.1,1588.8 252.3,1588.7 255.6,1588.3 258.9,1588.8 262.1,1588.8 265.4,1588.1 268.6,1588.7 271.9,1588.7 275.2,1588.8 278.4,1588.7 281.7,1588.8 284.9,1588.7 288.2,1588.8 291.5,1588.8 294.7,1588.7 298.0,1588.5 301.2,1588.1 304.5,1588.8 307.8,1588.8 311.0,1589.0 314.3,1588.1 317.5,1588.8 320.8,1588.5 324.1,1588.8 327.3,1588.5 330.6,1588.8 333.8,1588.5 337.1,1588.5 340.4,1588.7 343.6,1588.7 346.9,1588.1 350.1,1588.0 353.4,1588.7 356.7,1588.8 359.9,1588.5 363.2,1589.0 366.4,1588.3 369.7,1588.7 373.0,1588.5 376.2,1588.1 379.5,1588.8 382.7,1588.3 386.0,1588.5 389.3,1588.5 392.5,1588.1 395.8,1588.7 399.0,1588.5 402.3,1588.8 405.6,1588.7 408.8,1588.1 412.1,1588.8 415.3,1588.5 418.6,1588.7 421.9,1588.5 425.1,1588.7 428.4,1588.1 431.6,1588.5 434.9,1588.3 438.2,1588.7 441.4,1588.5 444.7,1588.7 447.9,1588.0 451.2,1588.5 454.5,1588.5 457.7,1588.1 461.0,1588.1 464.2,1588.8 467.5,1588.3 470.8,1588.7 474.0,1588.5 477.3,1589.0 480.5,1588.8 483.8,1588.7 487.1,1588.0 490.3,1588.5 493.6,1588.8 496.8,1588.5 500.1,1588.8 503.4,1588.7 506.6,1588.5 509.9,1589.0 513.1,1589.0 516.4,1588.8 519.7,1588.7 522.9,1589.0 526.2,1588.1 529.4,1588.5 532.7,1588.5 536.0,1588.7 539.2,1588.3 542.5,1588.5 545.7,1588.8 549.0,1588.1 552.3,1588.7 555.5,1588.7 558.8,1588.1 562.0,1588.7 565.3,1588.1 568.6,1588.5 575.1,1588.5 578.3,1588.0 581.6,1588.0 584.9,1588.1 588.1,1588.3 591.4,1589.0 594.6,1588.5 597.9,1588.1 601.2,1588.5 604.4,1588.7 607.7,1588.1 610.9,1588.8 614.2,1588.7 617.5,1588.7 620.7,1588.8 624.0,1588.5 627.2,1588.5 630.5,1588.7 633.8,1588.8 637.0,1588.1 640.3,1588.5 643.5,1588.7 646.8,1588.0 650.1,1588.7 653.3,1588.7 656.6,1587.8 659.8,1588.3 663.1,1588.5 666.4,1588.5 669.6,1588.7 672.9,1588.1 676.1,1588.5 679.4,1588.8 682.7,1588.8 685.9,1588.5 689.2,1588.8 692.4,1588.3 695.7,1588.7 699.0,1589.0 702.2,1588.8 705.5,1588.3 708.7,1588.3 712.0,1588.7 715.3,1589.0 718.5,1588.8 721.8,1588.7 725.0,1588.5 728.3,1588.1 731.6,1588.3 738.1,1588.3 741.3,1588.5 744.6,1588.5 747.9,1588.7 751.1,1588.7 754.4,1588.3 757.6,1588.3 760.9,1588.8 764.2,1588.5 767.4,1588.0 770.7,1588.7 773.9,1588.1 777.2,1588.3 780.5,1588.3 783.7,1588.1 787.0,1589.0 790.2,1588.3 793.5,1588.7 796.8,1588.8 800.0,1588.7 803.3,1588.0 806.5,1588.3 809.8,1587.8 813.1,1588.7 816.3,1587.8 819.6,1588.1 822.8,1587.6 826.1,1588.0 829.4,1588.5 832.6,1588.5 835.9,1587.5 839.1,1587.8 842.4,1587.5 845.7,1588.1 848.9,1587.5 852.2,1587.8 855.4,1586.4 858.7,1587.6 862.0,1587.5 865.2,1587.8 868.5,1586.8 871.7,1586.6 875.0,1586.3 878.3,1583.7 881.5,1586.3 884.8,1585.9 888.0,1585.7 891.3,1585.7 894.6,1584.4 897.8,1583.8 901.1,1583.5 904.3,1583.8 907.6,1582.1 910.9,1581.4 914.1,1580.8 917.4,1581.6 920.6,1578.5 923.9,1576.8 927.2,1577.2 930.4,1575.3 933.7,1577.2 936.9,1572.7 940.2,1571.0 943.5,1569.3 946.7,1568.6 950.0,1566.3 953.2,1565.3 956.5,1560.2 959.8,1559.6 963.0,1554.3 966.3,1547.8 969.5,1553.0 972.8,1543.3 976.1,1534.9 979.3,1533.6 982.6,1527.0 985.8,1525.3 989.1,1513.5 992.4,1508.5 995.6,1504.9 998.9,1497.0 1002.1,1479.8 1005.4,1472.6 1008.7,1461.1 1011.9,1451.7 1015.2,1425.4 1018.4,1414.2 1021.7,1409.4 1025.0,1397.2 1028.2,1386.6 1031.5,1362.2 1034.7,1349.0 1038.0,1332.0 1041.3,1308.5 1044.5,1298.2 1047.8,1268.2 1051.0,1257.7 1054.3,1212.4 1057.6,1207.7 1060.8,1183.7 1064.1,1154.3 1067.3,1118.1 1070.6,1095.1 1073.9,1068.8 1077.1,1030.1 1080.4,1013.9 1083.6,974.1 1086.9,943.9 1090.2,903.2 1093.4,866.5 1096.7,845.5 1099.9,820.6 1103.2,778.2 1106.5,762.1 1109.7,732.7 1113.0,696.2 1116.2,662.3 1119.5,632.3 1122.8,589.4 1126.0,553.2 1129.3,536.0 1132.5,496.0 1135.8,466.6 1139.1,437.6 1142.3,419.6 1145.6,367.9 1148.8,363.6 1152.1,339.6 1155.4,327.4 1158.6,305.4 1161.9,271.8 1165.1,257.0 1168.4,226.0 1171.7,218.2 1174.9,189.6 1178.2,190.1 1181.4,172.6 1184.7,157.6 1188.0,142.5 1191.2,138.9 1194.5,127.4 1197.7,114.4 1201.0,108.4 1204.3,88.6 1207.5,92.8 1210.8,81.1 1214.0,77.0 1217.3,68.7 1220.6,64.8 1223.8,62.4 1227.1,56.5 1230.3,53.8 1233.6,51.0 1236.9,51.7 1240.1,48.6 1243.4,46.9 1246.6,44.5 1249.9,45.2 1253.2,45.2 1256.4,44.5 1259.7,44.3 1262.9,44.0 1266.2,44.5 1269.5,44.0 1279.2,44.0 1282.5,44.2 1285.8,44.0 2179.0,44.0"/>
<polyline class="c" stroke="#EDB120" points="221.0,1588.5 223.0,1588.5 226.3,1587.6 229.5,1587.8 232.8,1588.5 236.0,1588.0 239.3,1589.0 242.6,1587.1 245.8,1588.7 249.1,1587.8 252.3,1588.7 255.6,1588.3 258.9,1588.0 262.1,1588.5 265.4,1588.1 268.6,1587.1 271.9,1588.5 275.2,1587.8 278.4,1588.5 281.7,1587.6 284.9,1587.8 288.2,1588.1 291.5,1588.7 294.7,1588.0 298.0,1588.3 301.2,1587.5 304.5,1588.0 307.8,1588.0 311.0,1587.8 314.3,1588.0 317.5,1588.1 320.8,1586.8 324.1,1588.1 327.3,1588.7 330.6,1587.8 333.8,1588.0 337.1,1588.1 340.4,1588.0 343.6,1588.3 346.9,1587.5 350.1,1588.5 353.4,1588.0 356.7,1587.8 363.2,1587.8 366.4,1588.1 369.7,1587.5 373.0,1588.5 376.2,1588.5 379.5,1588.0 382.7,1588.7 386.0,1587.8 389.3,1588.0 392.5,1587.8 395.8,1588.3 399.0,1587.8 402.3,1588.3 405.6,1588.0 408.8,1588.1 412.1,1588.0 415.3,1587.8 418.6,1587.8 421.9,1588.1 425.1,1587.5 428.4,1588.3 431.6,1588.3 434.9,1588.5 438.2,1587.8 441.4,1588.0 444.7,1588.1 447.9,1587.6 451.2,1587.5 454.5,1588.0 457.7,1587.6 461.0,1588.3 464.2,1588.0 467.5,1587.1 470.8,1587.5 474.0,1587.8 477.3,1587.5 480.5,1588.1 483.8,1587.8 487.1,1587.3 490.3,1588.5 496.8,1588.5 500.1,1588.7 503.4,1588.7 506.6,1587.8 509.9,1588.3 513.1,1587.5 516.4,1588.3 519.7,1588.0 522.9,1587.3 526.2,1588.3 529.4,1587.8 532.7,1588.0 536.0,1587.6 539.2,1588.0 542.5,1588.5 545.7,1588.1 549.0,1587.3 552.3,1588.7 555.5,1587.1 558.8,1587.8 562.0,1588.0 565.3,1587.8 568.6,1588.8 571.8,1588.3 575.1,1587.3 578.3,1587.6 581.6,1588.0 584.9,1587.6 588.1,1587.5 591.4,1587.5 594.6,1588.8 597.9,1588.5 601.2,1587.8 604.4,1588.3 607.7,1587.6 610.9,1588.1 614.2,1587.5 617.5,1587.8 620.7,1588.1 624.0,1587.6 627.2,1588.1 630.5,1588.0 633.8,1587.5 637.0,1588.0 640.3,1587.1 643.5,1587.3 646.8,1588.0 650.1,1588.5 653.3,1588.1 656.6,1588.0 659.8,1588.1 663.1,1588.0 666.4,1588.5 669.6,1588.3 672.9,1587.3 676.1,1588.3 679.4,1587.6 682.7,1588.3 685.9,1588.7 689.2,1587.1 692.4,1588.5 695.7,1587.3 699.0,1588.7 702.2,1588.3 705.5,1587.3 708.7,1586.4 712.0,1587.6 718.5,1587.6 721.8,1588.3 725.0,1588.1 728.3,1587.6 731.6,1587.6 734.8,1587.5 738.1,1588.1 741.3,1588.0 744.6,1587.6 747.9,1586.9 751.1,1586.4 754.4,1586.3 757.6,1586.8 760.9,1586.3 764.2,1586.1 767.4,1586.3 770.7,1585.7 773.9,1585.4 777.2,1585.9 780.5,1585.9 783.7,1585.1 787.0,1585.7 790.2,1584.4 793.5,1583.0 796.8,1583.8 800.0,1583.7 803.3,1583.7 806.5,1583.8 809.8,1582.5 813.1,1581.1 816.3,1579.0 819.6,1580.4 822.8,1582.5 826.1,1577.5 829.4,1576.3 832.6,1574.6 835.9,1577.3 839.1,1573.7 842.4,1571.5 845.7,1568.2 848.9,1569.3 852.2,1563.6 855.4,1563.9 858.7,1555.7 862.0,1554.7 865.2,1554.5 868.5,1545.1 871.7,1545.1 875.0,1542.7 878.3,1531.0 881.5,1537.0 884.8,1525.0 888.0,1524.1 891.3,1520.5 894.6,1514.8 897.8,1505.4 901.1,1491.2 904.3,1476.2 907.6,1468.5 910.9,1464.9 914.1,1447.0 917.4,1440.5 920.6,1421.8 923.9,1411.8 927.2,1388.0 930.4,1381.1 933.7,1361.9 936.9,1350.4 940.2,1332.0 943.5,1314.0 946.7,1285.0 950.0,1280.5 953.2,1242.1 956.5,1225.9 959.8,1198.5 963.0,1174.1 966.3,1150.0 969.5,1130.3 972.8,1093.1 976.1,1075.9 979.3,1037.9 982.6,997.3 985.8,985.8 989.1,953.5 992.4,895.5 995.6,879.8 998.9,853.1 1002.1,804.0 1005.4,779.6 1008.7,744.1 1011.9,704.7 1015.2,667.3 1018.4,654.1 1021.7,606.9 1025.0,585.8 1028.2,567.4 1031.5,515.9 1034.7,476.9 1038.0,468.9 1041.3,441.9 1044.5,408.1 1047.8,397.1 1051.0,363.5 1054.3,336.5 1057.6,313.2 1060.8,292.9 1064.1,265.3 1067.3,256.7 1070.6,237.0 1073.9,214.8 1077.1,196.8 1080.4,187.0 1083.6,165.5 1086.9,159.5 1090.2,138.6 1093.4,132.2 1096.7,121.4 1099.9,114.7 1103.2,112.2 1106.5,90.5 1109.7,88.5 1113.0,84.0 1116.2,73.9 1119.5,66.8 1122.8,65.5 1126.0,62.0 1129.3,57.6 1132.5,52.9 1135.8,51.0 1139.1,49.8 1142.3,49.0 1145.6,46.4 1148.8,46.1 1152.1,45.7 1155.4,44.9 1158.6,44.2 1161.9,44.2 1165.1,44.3 1168.4,44.0 2179.0,44.0"/>
<polyline class="c" stroke="#7E2F8E" points="221.0,1587.5 223.0,1587.5 226.3,1586.4 229.5,1585.4 232.8,1587.1 236.0,1586.8 239.3,1587.3 242.6,1586.4 245.8,1587.6 249.1,1586.6 252.3,1586.9 255.6,1586.8 258.9,1587.3 262.1,1586.1 265.4,1587.1 268.6,1586.4 271.9,1587.5 275.2,1587.1 278.4,1587.6 281.7,1586.8 284.9,1588.0 288.2,1586.6 291.5,1586.3 294.7,1587.6 298.0,1587.8 301.2,1586.9 304.5,1586.9 307.8,1586.8 311.0,1587.6 314.3,1587.1 317.5,1587.6 320.8,1586.4 324.1,1586.8 327.3,1587.1 330.6,1587.5 333.8,1587.5 337.1,1586.8 340.4,1586.6 343.6,1587.3 346.9,1588.1 350.1,1585.2 353.4,1587.8 356.7,1587.5 359.9,1586.8 363.2,1587.3 366.4,1586.6 369.7,1587.5 373.0,1587.5 376.2,1586.9 379.5,1587.5 382.7,1586.3 386.0,1587.6 389.3,1587.1 392.5,1588.0 395.8,1586.6 399.0,1587.1 402.3,1588.5 405.6,1586.9 408.8,1586.4 412.1,1586.8 415.3,1587.6 418.6,1587.1 421.9,1587.6 425.1,1587.1 428.4,1586.8 431.6,1587.8 434.9,1587.6 438.2,1585.9 441.4,1586.1 444.7,1586.6 447.9,1587.5 451.2,1586.9 454.5,1586.8 457.7,1588.3 461.0,1586.3 464.2,1588.1 467.5,1586.8 470.8,1586.9 474.0,1585.9 477.3,1587.5 480.5,1586.8 483.8,1586.8 487.1,1585.6 490.3,1586.9 493.6,1587.1 496.8,1585.6 500.1,1586.9 503.4,1586.9 506.6,1587.8 509.9,1587.3 513.1,1586.6 516.4,1587.5 519.7,1586.3 522.9,1587.1 526.2,1586.6 529.4,1586.6 532.7,1586.4 536.0,1586.8 539.2,1586.3 542.5,1586.9 545.7,1586.3 549.0,1587.5 552.3,1586.4 555.5,1587.8 558.8,1586.8 562.0,1586.9 565.3,1587.3 568.6,1587.6 571.8,1586.8 575.1,1586.6 578.3,1585.9 581.6,1586.3 584.9,1586.9 588.1,1587.8 591.4,1587.3 594.6,1587.8 597.9,1586.8 601.2,1587.3 604.4,1586.6 607.7,1586.6 610.9,1586.3 614.2,1586.8 617.5,1586.4 620.7,1586.8 624.0,1587.3 627.2,1586.6 630.5,1586.3 633.8,1588.0 637.0,1586.3 640.3,1585.1 643.5,1587.3 646.8,1587.1 650.1,1585.7 653.3,1586.3 656.6,1585.4 659.8,1584.9 663.1,1584.9 666.4,1585.1 669.6,1584.5 672.9,1584.7 676.1,1585.4 679.4,1583.5 682.7,1584.9 685.9,1584.7 689.2,1584.0 692.4,1584.2 695.7,1582.3 699.0,1583.0 702.2,1583.2 705.5,1580.1 708.7,1582.8 712.0,1581.8 715.3,1581.8 718.5,1575.6 721.8,1579.9 725.0,1576.3 728.3,1574.1 731.6,1574.4 734.8,1574.4 738.1,1573.0 741.3,1573.7 744.6,1569.1 747.9,1564.6 751.1,1561.7 754.4,1558.6 757.6,1561.9 760.9,1559.0 764.2,1559.8 767.4,1550.0 770.7,1547.6 773.9,1542.5 777.2,1538.2 780.5,1534.8 783.7,1529.9 787.0,1529.6 790.2,1523.9 793.5,1514.2 796.8,1509.3 800.0,1501.5 803.3,1492.4 806.5,1481.4 809.8,1466.8 813.1,1448.2 816.3,1441.4 819.6,1444.6 822.8,1408.2 826.1,1403.3 829.4,1397.9 832.6,1376.5 835.9,1350.2 839.1,1337.5 842.4,1328.4 845.7,1310.7 848.9,1289.8 852.2,1281.9 855.4,1256.7 858.7,1229.5 862.0,1200.5 865.2,1170.1 868.5,1142.8 871.7,1107.1 875.0,1083.4 878.3,1054.3 881.5,1034.9 884.8,1000.5 888.0,965.7 891.3,921.4 894.6,903.2 897.8,873.0 901.1,824.2 904.3,781.5 907.6,758.3 910.9,752.1 914.1,711.3 917.4,688.6 920.6,671.8 923.9,611.9 927.2,581.8 930.4,558.1 933.7,537.2 936.9,499.8 940.2,458.6 943.5,436.1 946.7,392.8 950.0,384.8 953.2,366.7 956.5,328.3 959.8,325.4 963.0,300.1 966.3,263.0 969.5,240.7 972.8,224.2 976.1,209.7 979.3,192.0 982.6,177.6 985.8,168.6 989.1,153.7 992.4,151.8 995.6,131.0 998.9,132.4 1002.1,113.7 1005.4,106.7 1008.7,94.8 1011.9,87.3 1015.2,81.8 1018.4,72.2 1021.7,67.0 1025.0,61.3 1028.2,59.5 1031.5,58.2 1034.7,55.7 1038.0,48.6 1041.3,50.9 1044.5,47.8 1047.8,46.1 1051.0,45.4 1054.3,44.9 1057.6,45.0 1060.8,45.2 1064.1,44.2 1067.3,44.2 1070.6,44.0 2179.0,44.0"/>
<polyline class="c" stroke="#77AC30" points="221.0,1584.4 223.0,1584.4 226.3,1586.1 229.5,1583.2 232.8,1584.9 236.0,1583.3 239.3,1583.5 242.6,1586.4 245.8,1584.4 249.1,1585.1 252.3,1584.4 255.6,1584.9 258.9,1584.4 262.1,1586.6 265.4,1585.6 268.6,1584.9 271.9,1586.6 275.2,1584.5 278.4,1585.4 281.7,1585.2 284.9,1585.1 288.2,1584.7 291.5,1587.1 294.7,1584.4 298.0,1585.2 301.2,1585.1 304.5,1585.9 307.8,1584.5 311.0,1585.6 314.3,1585.9 317.5,1585.1 320.8,1583.3 324.1,1584.2 327.3,1585.2 330.6,1585.7 333.8,1584.4 337.1,1583.7 340.4,1584.5 343.6,1584.5 346.9,1584.0 350.1,1585.2 353.4,1584.0 356.7,1584.9 359.9,1586.6 363.2,1585.6 366.4,1584.5 369.7,1586.1 373.0,1585.1 376.2,1585.1 379.5,1585.7 382.7,1585.6 386.0,1586.6 389.3,1585.6 392.5,1584.7 395.8,1586.1 399.0,1585.1 402.3,1585.6 405.6,1584.2 408.8,1585.9 412.1,1585.1 415.3,1586.6 418.6,1584.0 421.9,1584.7 425.1,1585.4 428.4,1585.1 431.6,1585.4 434.9,1585.7 438.2,1583.8 441.4,1586.1 444.7,1585.4 447.9,1586.3 451.2,1584.9 454.5,1585.4 457.7,1585.7 461.0,1587.1 464.2,1585.1 467.5,1585.4 470.8,1585.4 474.0,1584.4 477.3,1585.4 480.5,1584.5 483.8,1585.4 487.1,1585.7 490.3,1584.7 493.6,1584.9 496.8,1582.8 500.1,1584.0 503.4,1585.7 506.6,1584.7 509.9,1583.8 513.1,1585.1 516.4,1584.0 519.7,1584.5 522.9,1583.7 526.2,1585.1 529.4,1584.5 532.7,1585.7 536.0,1585.4 539.2,1584.7 542.5,1583.5 545.7,1584.5 549.0,1583.5 552.3,1584.2 555.5,1584.4 558.8,1584.5 562.0,1583.8 565.3,1584.0 568.6,1583.7 571.8,1583.2 575.1,1583.2 578.3,1581.6 581.6,1583.7 584.9,1583.5 588.1,1580.9 591.4,1583.0 594.6,1580.9 597.9,1579.9 601.2,1582.0 604.4,1581.8 607.7,1579.9 610.9,1579.0 614.2,1576.8 617.5,1578.2 620.7,1578.0 624.0,1576.8 627.2,1576.8 630.5,1576.0 633.8,1575.6 637.0,1569.9 640.3,1572.2 643.5,1570.5 646.8,1565.1 650.1,1569.6 653.3,1569.6 656.6,1560.0 659.8,1556.0 663.1,1557.4 666.4,1551.9 669.6,1547.6 672.9,1544.7 676.1,1541.4 679.4,1537.0 682.7,1537.7 685.9,1528.4 689.2,1518.8 692.4,1521.9 695.7,1514.7 699.0,1506.1 702.2,1494.2 705.5,1498.7 708.7,1475.0 712.0,1466.4 715.3,1456.0 718.5,1441.7 721.8,1435.7 725.0,1409.6 728.3,1403.3 731.6,1390.2 734.8,1369.6 738.1,1333.0 741.3,1358.8 744.6,1321.7 747.9,1303.2 751.1,1276.4 754.4,1257.2 757.6,1246.5 760.9,1191.9 764.2,1189.4 767.4,1163.3 770.7,1152.1 773.9,1120.2 777.2,1070.6 780.5,1050.7 783.7,1039.3 787.0,1001.4 790.2,942.7 793.5,933.7 796.8,891.7 800.0,875.2 803.3,846.0 806.5,799.3 809.8,781.1 813.1,731.0 816.3,714.7 819.6,659.3 822.8,646.0 826.1,625.6 829.4,591.8 832.6,567.6 835.9,529.8 839.1,478.0 842.4,471.1 845.7,441.4 848.9,388.2 852.2,376.7 855.4,355.1 858.7,345.1 862.0,302.0 865.2,295.7 868.5,264.1 871.7,246.4 875.0,230.1 878.3,217.7 881.5,198.8 884.8,194.0 888.0,169.0 891.3,149.9 894.6,140.0 897.8,128.3 901.1,121.9 904.3,110.8 907.6,99.6 910.9,91.6 914.1,82.3 917.4,79.9 920.6,74.7 923.9,70.6 927.2,61.2 930.4,59.1 933.7,55.3 936.9,52.9 940.2,52.1 943.5,48.8 946.7,47.1 950.0,46.7 953.2,45.5 956.5,45.5 959.8,44.9 963.0,44.9 966.3,44.3 969.5,44.2 972.8,44.2 976.1,44.0 979.3,44.2 982.6,44.0 995.6,44.0 998.9,44.2 1002.1,44.0 2179.0,44.0"/>
<polyline class="c" stroke="#4DBEEE" points="221.0,1581.6 223.0,1581.6 226.3,1579.7 229.5,1582.1 232.8,1580.4 236.0,1580.6 239.3,1582.3 242.6,1579.7 245.8,1582.0 249.1,1580.8 252.3,1579.4 255.6,1581.1 258.9,1581.8 262.1,1582.0 265.4,1580.2 268.6,1581.1 271.9,1582.1 275.2,1581.8 278.4,1579.7 281.7,1579.6 284.9,1581.3 288.2,1580.6 291.5,1581.3 294.7,1580.2 298.0,1582.8 301.2,1581.8 304.5,1582.3 307.8,1582.6 311.0,1583.0 314.3,1579.0 317.5,1578.9 320.8,1578.5 324.1,1581.6 327.3,1581.4 330.6,1580.1 333.8,1581.1 337.1,1581.6 340.4,1581.3 343.6,1579.7 346.9,1581.1 350.1,1581.1 353.4,1582.0 356.7,1580.8 359.9,1581.6 363.2,1581.1 366.4,1579.4 369.7,1582.1 373.0,1582.3 376.2,1580.9 379.5,1582.3 382.7,1578.9 386.0,1580.8 389.3,1582.0 392.5,1580.4 395.8,1579.4 399.0,1582.0 402.3,1581.3 405.6,1580.4 408.8,1583.2 412.1,1581.8 415.3,1579.2 418.6,1578.2 421.9,1581.3 425.1,1577.7 428.4,1581.3 431.6,1581.8 434.9,1580.1 438.2,1582.8 441.4,1581.8 444.7,1580.9 447.9,1578.4 451.2,1578.9 454.5,1579.4 457.7,1582.1 461.0,1579.0 464.2,1579.7 467.5,1580.6 470.8,1579.6 474.0,1577.7 477.3,1578.0 480.5,1579.2 483.8,1578.5 487.1,1578.0 490.3,1577.8 493.6,1576.0 496.8,1577.8 500.1,1578.0 503.4,1576.0 506.6,1573.7 509.9,1576.6 513.1,1575.4 516.4,1574.1 519.7,1573.5 522.9,1574.4 526.2,1571.1 529.4,1572.0 532.7,1568.1 536.0,1571.1 539.2,1567.5 542.5,1567.9 545.7,1563.4 549.0,1563.4 552.3,1561.7 555.5,1558.6 558.8,1553.3 562.0,1554.3 565.3,1552.8 568.6,1545.7 571.8,1543.3 575.1,1544.2 578.3,1538.4 581.6,1530.1 584.9,1527.7 588.1,1527.5 591.4,1519.3 594.6,1515.5 597.9,1503.9 601.2,1497.7 604.4,1498.0 607.7,1479.6 610.9,1464.2 614.2,1462.1 617.5,1451.5 620.7,1438.3 624.0,1419.6 627.2,1404.5 630.5,1393.5 633.8,1373.7 637.0,1370.6 640.3,1348.2 643.5,1323.3 646.8,1310.2 650.1,1293.9 653.3,1274.2 656.6,1262.0 659.8,1227.5 663.1,1211.8 666.4,1197.1 669.6,1176.1 672.9,1138.2 676.1,1109.2 679.4,1082.9 682.7,1046.7 685.9,1025.9 689.2,987.3 692.4,958.3 695.7,931.7 699.0,904.9 702.2,857.0 705.5,830.1 708.7,814.8 712.0,764.8 715.3,730.5 718.5,690.0 721.8,661.8 725.0,631.1 728.3,599.0 731.6,567.4 734.8,565.2 738.1,496.0 741.3,482.3 744.6,458.7 747.9,412.7 751.1,398.7 754.4,376.9 757.6,370.2 760.9,322.6 764.2,311.8 767.4,288.6 770.7,280.0 773.9,239.4 777.2,220.3 780.5,205.9 783.7,200.9 787.0,196.3 790.2,177.9 793.5,155.8 796.8,138.4 800.0,126.1 803.3,116.3 806.5,99.3 809.8,101.5 813.1,90.4 816.3,82.1 819.6,76.6 822.8,71.5 826.1,65.3 829.4,60.7 832.6,57.4 835.9,53.3 839.1,51.6 842.4,49.8 845.7,48.8 848.9,48.3 852.2,46.2 855.4,45.4 858.7,44.7 862.0,44.7 865.2,44.9 868.5,44.3 871.7,44.2 875.0,44.0 2179.0,44.0"/>
<polyline class="c" stroke="#A2142F" points="221.0,1573.2 223.0,1573.2 226.3,1574.1 229.5,1574.9 232.8,1574.9 236.0,1572.3 239.3,1574.4 242.6,1574.2 245.8,1573.2 249.1,1570.3 252.3,1574.4 255.6,1569.8 258.9,1569.1 262.1,1569.8 265.4,1571.0 268.6,1570.1 271.9,1573.9 275.2,1571.5 278.4,1573.2 281.7,1574.2 284.9,1571.7 288.2,1572.9 291.5,1573.2 294.7,1573.2 298.0,1571.0 301.2,1575.3 304.5,1575.3 307.8,1572.5 311.0,1568.2 314.3,1570.8 317.5,1573.5 320.8,1571.3 324.1,1576.3 327.3,1571.0 330.6,1569.9 333.8,1574.1 337.1,1573.2 340.4,1574.9 343.6,1571.0 346.9,1573.2 350.1,1571.5 353.4,1570.6 356.7,1572.3 359.9,1572.5 363.2,1574.4 366.4,1573.4 369.7,1572.2 373.0,1573.2 376.2,1569.9 379.5,1569.3 382.7,1572.5 386.0,1570.3 389.3,1570.6 392.5,1565.1 395.8,1572.0 399.0,1569.9 402.3,1569.3 405.6,1568.2 408.8,1567.2 412.1,1567.0 415.3,1567.7 418.6,1566.9 421.9,1564.8 425.1,1562.6 428.4,1562.2 431.6,1560.3 434.9,1554.8 438.2,1560.7 441.4,1562.7 444.7,1559.3 447.9,1553.3 451.2,1556.9 454.5,1549.0 457.7,1553.5 461.0,1550.9 464.2,1546.6 467.5,1544.0 470.8,1543.3 474.0,1534.1 477.3,1534.6 480.5,1531.0 483.8,1523.3 487.1,1525.5 490.3,1516.6 493.6,1512.3 496.8,1504.9 500.1,1502.5 503.4,1498.4 506.6,1476.2 509.9,1478.4 513.1,1458.2 516.4,1442.4 519.7,1447.2 522.9,1423.7 526.2,1408.8 529.4,1399.7 532.7,1382.5 536.0,1370.0 539.2,1355.4 542.5,1346.1 545.7,1329.8 549.0,1314.5 552.3,1291.0 555.5,1256.8 558.8,1232.4 562.0,1231.6 565.3,1187.0 568.6,1176.3 571.8,1132.9 575.1,1138.7 578.3,1080.4 581.6,1092.9 584.9,1023.0 588.1,1026.1 591.4,993.7 594.6,960.0 597.9,915.2 601.2,886.5 604.4,836.9 607.7,814.1 610.9,799.7 614.2,753.8 617.5,735.1 620.7,682.9 624.0,672.1 627.2,619.4 630.5,585.1 633.8,577.4 637.0,530.2 640.3,511.6 643.5,478.3 646.8,454.6 650.1,423.7 653.3,399.7 656.6,378.1 659.8,363.1 663.1,313.5 666.4,294.8 669.6,281.9 672.9,264.9 676.1,246.1 679.4,220.0 682.7,207.3 685.9,201.6 689.2,176.5 692.4,165.4 695.7,160.0 699.0,128.6 702.2,127.4 705.5,113.5 708.7,101.0 712.0,99.6 715.3,92.8 718.5,85.7 721.8,79.0 725.0,71.3 728.3,67.5 731.6,58.1 734.8,56.4 738.1,54.1 741.3,51.6 744.6,50.5 747.9,48.1 751.1,46.7 754.4,46.7 757.6,46.1 760.9,45.4 764.2,44.9 767.4,44.5 770.7,44.0 773.9,44.2 780.5,44.2 783.7,44.0 2179.0,44.0"/>
<polyline class="c" stroke="#0072BD" points="221.0,1558.1 223.0,1558.1 226.3,1556.4 229.5,1556.0 232.8,1559.1 236.0,1557.6 239.3,1560.3 242.6,1560.0 245.8,1551.7 249.1,1556.2 252.3,1556.2 255.6,1555.2 258.9,1550.9 262.1,1558.6 265.4,1552.4 268.6,1559.3 271.9,1555.0 275.2,1554.8 278.4,1553.0 281.7,1554.3 284.9,1556.0 288.2,1554.2 291.5,1557.4 294.7,1549.2 298.0,1554.0 301.2,1554.7 304.5,1550.7 307.8,1552.3 311.0,1549.3 314.3,1551.9 317.5,1548.8 320.8,1549.7 324.1,1548.3 327.3,1551.1 330.6,1551.1 333.8,1546.8 337.1,1541.4 340.4,1543.2 343.6,1549.9 346.9,1537.8 350.1,1539.6 353.4,1541.3 356.7,1538.4 359.9,1538.2 363.2,1539.7 366.4,1534.9 369.7,1525.1 373.0,1526.0 376.2,1521.4 379.5,1518.6 382.7,1516.9 386.0,1518.1 389.3,1504.2 392.5,1499.9 395.8,1499.9 399.0,1497.2 402.3,1487.2 405.6,1471.9 408.8,1473.1 412.1,1459.2 415.3,1453.2 418.6,1449.4 421.9,1424.4 425.1,1405.7 428.4,1397.9 431.6,1376.5 434.9,1370.5 438.2,1361.7 441.4,1340.4 444.7,1323.4 447.9,1322.4 451.2,1299.7 454.5,1281.2 457.7,1246.9 461.0,1238.8 464.2,1204.3 467.5,1201.9 470.8,1149.5 474.0,1138.7 477.3,1131.9 480.5,1079.0 483.8,1055.1 487.1,1025.9 490.3,983.2 493.6,972.2 496.8,943.7 500.1,904.2 503.4,870.4 506.6,831.4 509.9,808.8 513.1,785.4 516.4,767.9 519.7,708.9 522.9,665.6 526.2,660.6 529.4,593.3 532.7,606.4 536.0,563.5 539.2,516.6 542.5,479.2 545.7,463.2 549.0,436.8 552.3,423.0 555.5,399.0 558.8,377.4 562.0,336.5 565.3,329.1 568.6,299.6 571.8,281.9 575.1,259.4 578.3,254.1 581.6,220.0 584.9,206.9 588.1,178.2 591.4,176.2 594.6,169.3 597.9,144.6 601.2,136.2 604.4,129.0 607.7,118.2 610.9,104.3 614.2,100.0 617.5,94.8 620.7,82.5 624.0,73.0 627.2,68.9 630.5,66.7 633.8,60.3 637.0,56.2 640.3,55.0 643.5,53.4 646.8,50.4 650.1,47.4 653.3,48.5 656.6,46.6 659.8,45.9 663.1,44.7 666.4,45.0 669.6,44.5 672.9,44.2 676.1,44.5 679.4,44.3 682.7,44.0 2179.0,44.0"/>
<polyline class="c" stroke="#D95319" points="221.0,1520.7 223.0,1520.7 226.3,1519.0 229.5,1510.5 232.8,1513.6 236.0,1512.8 239.3,1513.8 242.6,1507.6 245.8,1516.4 249.1,1508.0 252.3,1503.3 255.6,1504.4 258.9,1504.7 262.1,1497.3 265.4,1502.8 268.6,1501.8 271.9,1490.8 275.2,1489.9 278.4,1483.1 281.7,1488.4 284.9,1482.2 288.2,1476.6 291.5,1472.1 294.7,1460.6 298.0,1467.6 301.2,1454.4 304.5,1460.2 307.8,1441.7 311.0,1442.6 314.3,1438.6 317.5,1408.6 320.8,1409.8 324.1,1394.8 327.3,1378.7 330.6,1367.7 333.8,1352.1 337.1,1345.7 340.4,1330.0 343.6,1301.8 346.9,1313.5 350.1,1272.8 353.4,1251.7 356.7,1241.7 359.9,1232.4 363.2,1205.3 366.4,1190.9 369.7,1164.3 373.0,1130.3 376.2,1101.6 379.5,1073.1 382.7,1044.8 386.0,1030.9 389.3,1017.0 392.5,980.8 395.8,935.3 399.0,922.8 402.3,888.4 405.6,852.7 408.8,805.3 412.1,775.6 415.3,750.6 418.6,720.0 421.9,708.4 425.1,651.9 428.4,628.9 431.6,599.7 434.9,583.7 438.2,557.8 441.4,527.9 444.7,491.7 447.9,470.4 451.2,446.7 454.5,400.2 457.7,386.8 461.0,348.9 464.2,333.8 467.5,301.2 470.8,294.1 474.0,269.9 477.3,261.3 480.5,233.0 483.8,232.0 487.1,205.4 490.3,197.8 493.6,169.7 496.8,158.5 500.1,141.5 503.4,126.2 506.6,119.0 509.9,110.8 513.1,108.4 516.4,96.0 519.7,86.9 522.9,84.5 526.2,72.0 529.4,64.9 532.7,66.8 536.0,60.1 539.2,57.9 542.5,56.0 545.7,52.8 549.0,50.4 552.3,48.5 555.5,47.6 558.8,47.4 562.0,45.0 565.3,45.5 568.6,45.0 571.8,44.7 575.1,44.2 578.3,44.3 581.6,44.0 584.9,44.0 588.1,44.2 591.4,44.0 2179.0,44.0"/>
<text class="d" transform="translate(1789.5,1476.5) rotate(-75) scale(.98,1)">2<tspan class="s" dx="2.3" dy="-27.9">5</tspan></text>
<text class="d" transform="translate(1704.1,1396.7) rotate(-75) scale(.98,1)">2<tspan class="s" dx="2.3" dy="-27.9">6</tspan></text>
<text class="d" transform="translate(1614.1,1319.1) rotate(-75) scale(.98,1)">2<tspan class="s" dx="2.3" dy="-27.9">7</tspan></text>
<text class="d" transform="translate(1523.6,1243.2) rotate(-75) scale(.98,1)">2<tspan class="s" dx="2.3" dy="-27.9">8</tspan></text>
<text class="d" transform="translate(1433.5,1166.5) rotate(-75) scale(.98,1)">2<tspan class="s" dx="2.3" dy="-27.9">9</tspan></text>
<text class="d" transform="translate(1343.4,1090.2) rotate(-75) scale(.98,1)">2<tspan class="s" dx="2.3" dy="-27.9">10</tspan></text>
<text class="d" transform="translate(1253.1,1012.9) rotate(-75) scale(.98,1)">2<tspan class="s" dx="2.3" dy="-27.9">11</tspan></text>
<text class="d" transform="translate(1163.3,936.5) rotate(-75) scale(.98,1)">2<tspan class="s" dx="2.3" dy="-27.9">12</tspan></text>
<text class="d" transform="translate(1073.1,855.1) rotate(-75) scale(.98,1)">2<tspan class="s" dx="2.3" dy="-27.9">13</tspan></text>
<text class="d" transform="translate(983.1,778.9) rotate(-75) scale(.98,1)">2<tspan class="s" dx="2.3" dy="-27.9">14</tspan></text>
<text class="d" transform="translate(892.5,702.1) rotate(-75) scale(.98,1)">2<tspan class="s" dx="2.3" dy="-27.9">15</tspan></text>
<text class="d" transform="translate(806.9,625.8) rotate(-75) scale(.98,1)">2<tspan class="s" dx="2.3" dy="-27.9">16</tspan></text>
<text class="d" transform="translate(716.9,549.1) rotate(-75) scale(.98,1)">2<tspan class="s" dx="2.3" dy="-27.9">17</tspan></text>
<text class="d" transform="translate(626.1,472.5) rotate(-75) scale(.98,1)">2<tspan class="s" dx="2.3" dy="-27.9">18</tspan></text>
<text class="d" transform="translate(536.4,391.1) rotate(-75) scale(.98,1)">2<tspan class="s" dx="2.3" dy="-27.9">19</tspan></text>
<text class="d" transform="translate(446.6,315.2) rotate(-75) scale(.98,1)">2<tspan class="s" dx="2.3" dy="-27.9">20</tspan></text>
<text class="t" transform="translate(220,1674.3) scale(1,1.015)" text-anchor="middle">-50</text>
<text class="t" transform="translate(546,1674.3) scale(1,1.015)" text-anchor="middle">-40</text>
<text class="t" transform="translate(872,1674.3) scale(1,1.015)" text-anchor="middle">-30</text>
<text class="t" transform="translate(1198,1674.3) scale(1,1.015)" text-anchor="middle">-20</text>
<text class="t" transform="translate(1524,1674.3) scale(1,1.015)" text-anchor="middle">-10</text>
<text class="t" transform="translate(1851.5,1674.3) scale(1,1.015)" text-anchor="middle">0</text>
<text class="t" transform="translate(2177.5,1674.3) scale(1,1.015)" text-anchor="middle">10</text>
<text class="t" transform="translate(195.6,67.3) scale(1,1.015)" text-anchor="end">1</text>
<text class="t" transform="translate(195.6,222.3) scale(1,1.015)" text-anchor="end">0.9</text>
<text class="t" transform="translate(195.6,376.3) scale(1,1.015)" text-anchor="end">0.8</text>
<text class="t" transform="translate(195.6,531.3) scale(1,1.015)" text-anchor="end">0.7</text>
<text class="t" transform="translate(195.6,685.3) scale(1,1.015)" text-anchor="end">0.6</text>
<text class="t" transform="translate(195.6,840.3) scale(1,1.015)" text-anchor="end">0.5</text>
<text class="t" transform="translate(195.6,994.3) scale(1,1.015)" text-anchor="end">0.4</text>
<text class="t" transform="translate(195.6,1149.3) scale(1,1.015)" text-anchor="end">0.3</text>
<text class="t" transform="translate(195.6,1303.3) scale(1,1.015)" text-anchor="end">0.2</text>
<text class="t" transform="translate(195.6,1458.3) scale(1,1.015)" text-anchor="end">0.1</text>
<text class="t" transform="translate(195.6,1612.3) scale(1,1.015)" text-anchor="end">0</text>
<text class="l" transform="translate(1200.3,1761.5) scale(1,1.02)" text-anchor="middle">Input SNR (dB)</text>
<text class="l" transform="translate(75.8,818) rotate(-90) scale(.99,1.02)" text-anchor="middle">POD</text>
</svg></body></html>
